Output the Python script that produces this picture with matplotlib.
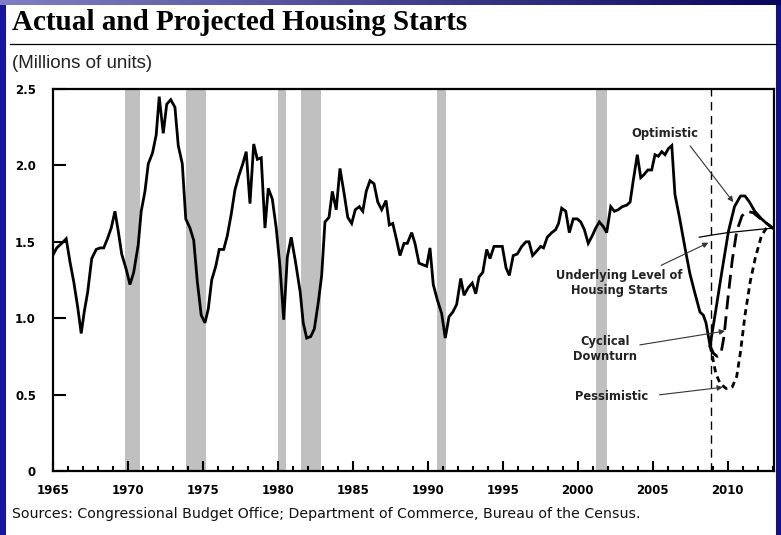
import numpy as np
import matplotlib
matplotlib.use("Agg")
import matplotlib.pyplot as plt
from matplotlib.patches import Rectangle
from matplotlib.lines import Line2D

# actual housing starts, millions of units
actual_year = [1965.0, 1965.27, 1965.6, 1965.9, 1966.15, 1966.4, 1966.67, 1966.9, 1967.1, 1967.33,
               1967.6, 1967.9, 1968.15, 1968.4, 1968.65, 1968.9, 1969.15, 1969.37, 1969.6, 1969.9,
               1970.15, 1970.4, 1970.7, 1970.9, 1971.15, 1971.37, 1971.65, 1971.9, 1972.1, 1972.37,
               1972.6, 1972.87, 1973.15, 1973.37, 1973.64, 1973.87, 1974.15, 1974.4, 1974.64, 1974.9,
               1975.15, 1975.37, 1975.6, 1975.87, 1976.1, 1976.4, 1976.64, 1976.9, 1977.15, 1977.4,
               1977.67, 1977.9, 1978.15, 1978.4, 1978.64, 1978.9, 1979.15, 1979.37, 1979.64, 1979.9,
               1980.15, 1980.4, 1980.64, 1980.9, 1981.2, 1981.5, 1981.7, 1981.93, 1982.2, 1982.44,
               1982.7, 1982.93, 1983.15, 1983.42, 1983.64, 1983.9, 1984.15, 1984.42, 1984.67, 1984.93,
               1985.17, 1985.44, 1985.67, 1985.9, 1986.15, 1986.42, 1986.67, 1986.93, 1987.22, 1987.44,
               1987.67, 1987.93, 1988.15, 1988.42, 1988.64, 1988.93, 1989.15, 1989.42, 1989.67, 1989.93,
               1990.15, 1990.37, 1990.64, 1990.93, 1991.17, 1991.42, 1991.67, 1991.93, 1992.2, 1992.42,
               1992.7, 1992.97, 1993.2, 1993.42, 1993.67, 1993.93, 1994.15, 1994.42, 1994.7, 1994.97,
               1995.22, 1995.44, 1995.7, 1995.97, 1996.27, 1996.55, 1996.75, 1996.99, 1997.27, 1997.53,
               1997.72, 1997.97, 1998.27, 1998.53, 1998.72, 1998.93, 1999.2, 1999.44, 1999.7, 1999.97,
               2000.2, 2000.44, 2000.7, 2000.97, 2001.2, 2001.44, 2001.7, 2001.93, 2002.2, 2002.44,
               2002.7, 2002.97, 2003.27, 2003.49, 2003.7, 2003.97, 2004.2, 2004.42, 2004.67, 2004.93,
               2005.15, 2005.37, 2005.6, 2005.82, 2006.04, 2006.27, 2006.48, 2006.82, 2007.15, 2007.48,
               2007.82, 2008.15, 2008.37, 2008.55, 2008.82]
actual_value = [1.41, 1.46, 1.49, 1.52, 1.37, 1.24, 1.07, 0.90, 1.04, 1.17,
                1.39, 1.45, 1.46, 1.46, 1.52, 1.59, 1.70, 1.57, 1.42, 1.32,
                1.22, 1.30, 1.48, 1.70, 1.83, 2.01, 2.08, 2.20, 2.45, 2.21,
                2.40, 2.43, 2.38, 2.13, 2.01, 1.65, 1.59, 1.51, 1.24, 1.02,
                0.97, 1.06, 1.25, 1.34, 1.45, 1.45, 1.54, 1.68, 1.84, 1.93,
                2.01, 2.09, 1.75, 2.14, 2.04, 2.05, 1.59, 1.85, 1.78, 1.59,
                1.34, 0.99, 1.40, 1.53, 1.36, 1.17, 0.97, 0.87, 0.88, 0.93,
                1.10, 1.28, 1.63, 1.66, 1.83, 1.71, 1.98, 1.82, 1.66, 1.62,
                1.71, 1.73, 1.70, 1.83, 1.90, 1.88, 1.76, 1.71, 1.77, 1.61,
                1.62, 1.51, 1.41, 1.49, 1.49, 1.56, 1.49, 1.36, 1.35, 1.34,
                1.46, 1.22, 1.12, 1.03, 0.87, 1.01, 1.04, 1.09, 1.26, 1.15,
                1.20, 1.23, 1.16, 1.27, 1.30, 1.45, 1.39, 1.47, 1.47, 1.47,
                1.33, 1.28, 1.41, 1.42, 1.47, 1.50, 1.50, 1.41, 1.44, 1.47,
                1.46, 1.53, 1.56, 1.58, 1.62, 1.72, 1.70, 1.56, 1.65, 1.65,
                1.63, 1.58, 1.49, 1.54, 1.59, 1.63, 1.60, 1.56, 1.73, 1.70,
                1.71, 1.73, 1.74, 1.76, 1.90, 2.07, 1.92, 1.94, 1.97, 1.97,
                2.07, 2.06, 2.09, 2.07, 2.11, 2.13, 1.81, 1.64, 1.46, 1.29,
                1.16, 1.04, 1.02, 0.97, 0.82]

# projections
optimistic_year = [2008.82, 2009.2, 2009.6, 2010.05, 2010.45, 2010.85, 2011.15, 2011.45, 2011.8, 2012.25, 2012.6, 2013.0]
optimistic_value = [0.82, 1.05, 1.30, 1.57, 1.73, 1.80, 1.80, 1.76, 1.70, 1.65, 1.62, 1.59]
cyclical_year = [2008.82, 2009.05, 2009.3, 2009.55, 2009.75, 2010.0, 2010.3, 2010.6, 2010.95, 2011.3, 2011.7, 2012.2, 2012.6, 2013.0]
cyclical_value = [0.82, 0.77, 0.75, 0.77, 0.88, 1.12, 1.38, 1.57, 1.67, 1.70, 1.69, 1.65, 1.62, 1.59]
pessimistic_year = [2008.82, 2009.0, 2009.2, 2009.5, 2009.9, 2010.3, 2010.6, 2010.85, 2011.15, 2011.5, 2011.85, 2012.25, 2012.65, 2013.0]
pessimistic_value = [0.82, 0.74, 0.64, 0.57, 0.54, 0.55, 0.62, 0.78, 1.02, 1.24, 1.40, 1.54, 1.60, 1.59]
underlying_year = [2008.1, 2009.0, 2010.0, 2011.0, 2012.0, 2013.0]
underlying_value = [1.53, 1.545, 1.56, 1.57, 1.58, 1.59]

recessions = [(1969.85, 1970.85), (1973.9, 1975.2), (1980.05, 1980.55),
              (1981.55, 1982.9), (1990.6, 1991.25), (2001.25, 2001.95)]
projection_start = 2008.87

W, H = 781, 535
fig = plt.figure(figsize=(W / 100, H / 100), dpi=100)
fig.patch.set_facecolor("white")

# slide frame (blue strips)
grad_ax = fig.add_axes([0, 1 - 5 / H, 1, 5 / H])
grad_ax.axis("off")
grad = np.linspace(0, 1, 256).reshape(1, -1)
c0 = np.array([0.50, 0.50, 0.78])
c1 = np.array([0.03, 0.03, 0.38])
img = c0[None, None, :] * (1 - grad[..., None]) + c1[None, None, :] * grad[..., None]
grad_ax.imshow(np.clip(img, 0, 1), aspect="auto", extent=[0, 1, 0, 1])
fig.patches.append(Rectangle((0, 0), 6 / W, 1 - 5 / H, transform=fig.transFigure,
                             facecolor="#1616a0", edgecolor="none"))
fig.patches.append(Rectangle((1 - 5 / W, 0), 5 / W, 1 - 5 / H, transform=fig.transFigure,
                             facecolor="#10108c", edgecolor="none"))

# title + rule
fig.text(12 / W, 1 - 22 / H, "Actual and Projected Housing Starts", family="Liberation Serif",
         weight="bold", fontsize=21, va="center", ha="left")
fig.add_artist(Line2D([10 / W, 776 / W], [1 - 44 / H, 1 - 44 / H], color="black", lw=0.9,
                      transform=fig.transFigure))
fig.text(12 / W, 1 - 63 / H, "(Millions of units)", family="Liberation Sans", fontsize=13.5,
         va="center", ha="left", color="#222222")
fig.text(12 / W, 1 - 514 / H,
         "Sources: Congressional Budget Office; Department of Commerce, Bureau of the Census.",
         family="DejaVu Sans", fontsize=10.2, va="center", ha="left", color="#111111")

ax = fig.add_axes([52.7 / W, 1 - 471 / H, (773.5 - 52.7) / W, (471 - 89) / H])

for a, b in recessions:
    ax.axvspan(a, b, color="#c0c0c0", lw=0, zorder=0)

ax.axvline(projection_start, color="black", lw=1.0, dashes=(6, 4), zorder=1)

ax.plot(actual_year, actual_value, color="black", lw=2.0, solid_joinstyle="miter", zorder=3)
ax.plot(optimistic_year, optimistic_value, color="black", lw=2.0, zorder=3)
ax.plot(cyclical_year, cyclical_value, color="black", lw=2.0, dashes=(5, 2.5), zorder=3)
ax.plot(pessimistic_year, pessimistic_value, color="black", lw=2.0, dashes=(2.2, 1.6), zorder=3)
ax.plot(underlying_year, underlying_value, color="black", lw=0.9, zorder=2)

ax.set_xlim(1965, 2013.05)
ax.set_ylim(0, 2.5)
ax.set_xticks(range(1965, 2011, 5))
ax.set_xticks(range(1965, 2014), minor=True)
ax.set_yticks([0, 0.5, 1.0, 1.5, 2.0, 2.5])
ax.set_yticklabels(["0", "0.5", "1.0", "1.5", "2.0", "2.5"])
ax.tick_params(axis="x", which="major", direction="in", length=7.5, width=1.5, pad=9)
ax.tick_params(axis="x", which="minor", direction="in", length=3.5, width=1.5)
ax.tick_params(axis="y", direction="in", length=9, width=1.5, pad=12)
for lab in ax.get_xticklabels() + ax.get_yticklabels():
    lab.set_fontweight("bold")
    lab.set_fontsize(8.5)
    lab.set_family("DejaVu Sans")
for sp in ax.spines.values():
    sp.set_linewidth(1.6)

arrow = dict(arrowstyle="-|>", color="#333333", lw=0.8, mutation_scale=8, shrinkB=0)
text_kw = dict(ha="center", va="center", fontsize=8.3, fontweight="bold", color="#222222",
               linespacing=1.25)

ax.annotate("Optimistic", xy=(2010.37, 1.76), xytext=(2005.84, 2.21),
            arrowprops=dict(arrow, shrinkA=3, relpos=(0.8, 0.0)), **text_kw)
ax.annotate("Underlying Level of\nHousing Starts", xy=(2008.71, 1.494), xytext=(2002.8, 1.23),
            arrowprops=dict(arrow, shrinkA=1, relpos=(0.77, 1.0)), **text_kw)
ax.annotate("Cyclical\nDownturn", xy=(2009.82, 0.916), xytext=(2001.82, 0.80),
            arrowprops=dict(arrow, shrinkA=0, relpos=(1.0, 0.62)), **text_kw)
ax.annotate("Pessimistic", xy=(2009.67, 0.548), xytext=(2002.27, 0.49),
            arrowprops=dict(arrow, shrinkA=6, relpos=(1.0, 0.5)), **text_kw)

fig.savefig("out.png", dpi=100)
